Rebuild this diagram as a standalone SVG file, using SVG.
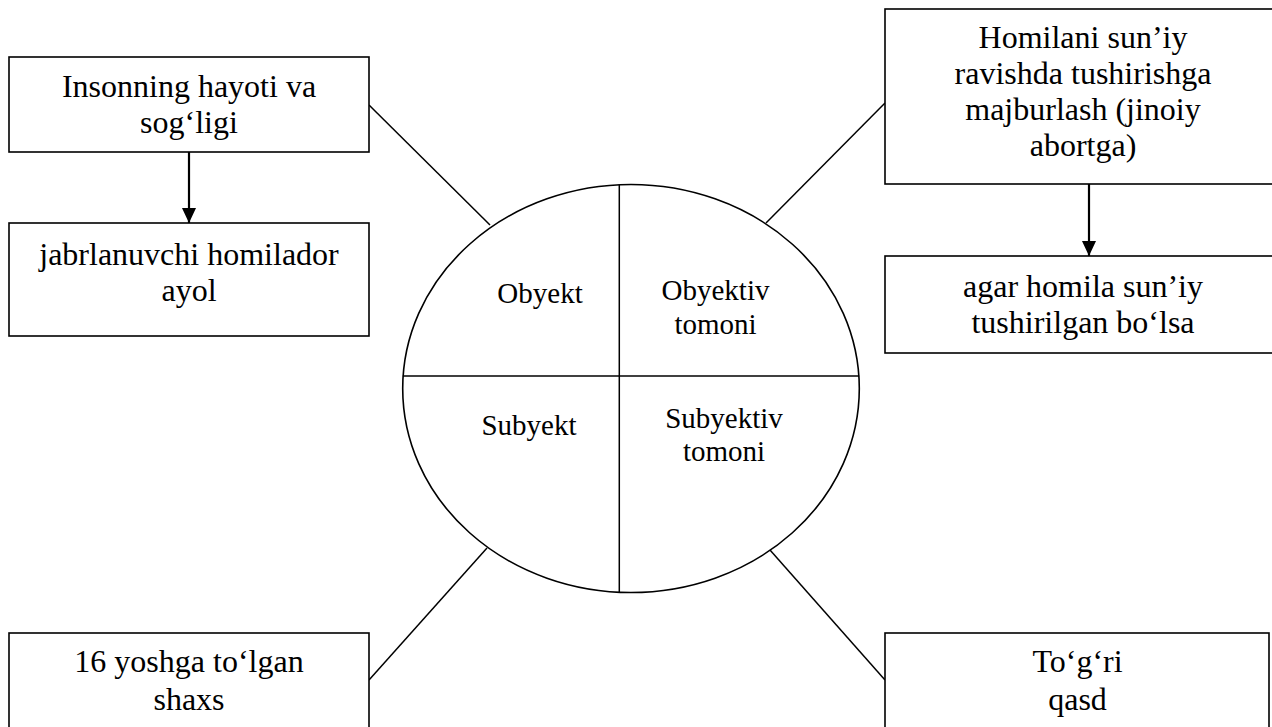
<svg xmlns="http://www.w3.org/2000/svg" width="1272" height="727" viewBox="0 0 1272 727">
<style>
.box{fill:#fff;stroke:#000;stroke-width:1.6}
text{font-family:'Liberation Serif','Times New Roman',serif;fill:#000;text-anchor:middle}
.t{font-size:32px}
.e{font-size:29px}
.ln{stroke:#000;stroke-width:1.5;fill:none}
.ar{stroke:#000;stroke-width:2.2;fill:none}
</style>
<defs>
<marker id="ah" markerUnits="userSpaceOnUse" markerWidth="16" markerHeight="14" refX="15" refY="7" orient="auto">
<path d="M0,0 L15,7 L0,14 Z" fill="#000"/>
</marker>
</defs>
<rect width="1272" height="727" fill="#fff"/>
<g id="connectors">
<line class="ln" x1="369" y1="105" x2="490" y2="225"/>
<line class="ln" x1="885" y1="103" x2="766" y2="223"/>
<line class="ln" x1="487" y1="548" x2="369" y2="680"/>
<line class="ln" x1="770" y1="550" x2="885" y2="680"/>
<line class="ar" x1="189" y1="152" x2="189" y2="223" marker-end="url(#ah)"/>
<line class="ar" x1="1089" y1="184" x2="1089" y2="256" marker-end="url(#ah)"/>
</g>
<g id="center">
<ellipse cx="631" cy="388.5" rx="228.3" ry="204" fill="#fff" stroke="#000" stroke-width="1.6"/>
<line class="ln" x1="402.8" y1="376" x2="859.2" y2="376" stroke-width="1.8"/>
<line class="ln" x1="619.3" y1="184.8" x2="619.3" y2="592.5" stroke-width="1.8"/>
<text class="e" x="540" y="303">Obyekt</text>
<text class="e" x="715.5" y="300">Obyektiv</text>
<text class="e" x="715.5" y="334">tomoni</text>
<text class="e" x="529" y="435">Subyekt</text>
<text class="e" x="724" y="428">Subyektiv</text>
<text class="e" x="724" y="461">tomoni</text>
</g>
<g id="object">
<rect class="box" x="9" y="57" width="360" height="95"/>
<text class="t" x="189" y="97">Insonning hayoti va</text>
<text class="t" x="189" y="133">sog‘ligi</text>
</g>
<g id="victim">
<rect class="box" x="9" y="223" width="360" height="113"/>
<text class="t" x="189" y="265">jabrlanuvchi homilador</text>
<text class="t" x="189" y="301">ayol</text>
</g>
<g id="objective">
<rect class="box" x="885" y="9" width="396" height="175"/>
<text class="t" x="1083" y="48">Homilani sun’iy</text>
<text class="t" x="1083" y="84">ravishda tushirishga</text>
<text class="t" x="1083" y="120">majburlash (jinoiy</text>
<text class="t" x="1083" y="156">abortga)</text>
</g>
<g id="condition">
<rect class="box" x="885" y="256" width="396" height="97"/>
<text class="t" x="1083" y="297">agar homila sun’iy</text>
<text class="t" x="1083" y="333">tushirilgan bo‘lsa</text>
</g>
<g id="subject">
<rect class="box" x="9" y="633" width="360" height="110"/>
<text class="t" x="189" y="672">16 yoshga to‘lgan</text>
<text class="t" x="189" y="710">shaxs</text>
</g>
<g id="subjective">
<rect class="box" x="885" y="633" width="384" height="110"/>
<text class="t" x="1077.5" y="672">To‘g‘ri</text>
<text class="t" x="1077.5" y="710">qasd</text>
</g>
</svg>
